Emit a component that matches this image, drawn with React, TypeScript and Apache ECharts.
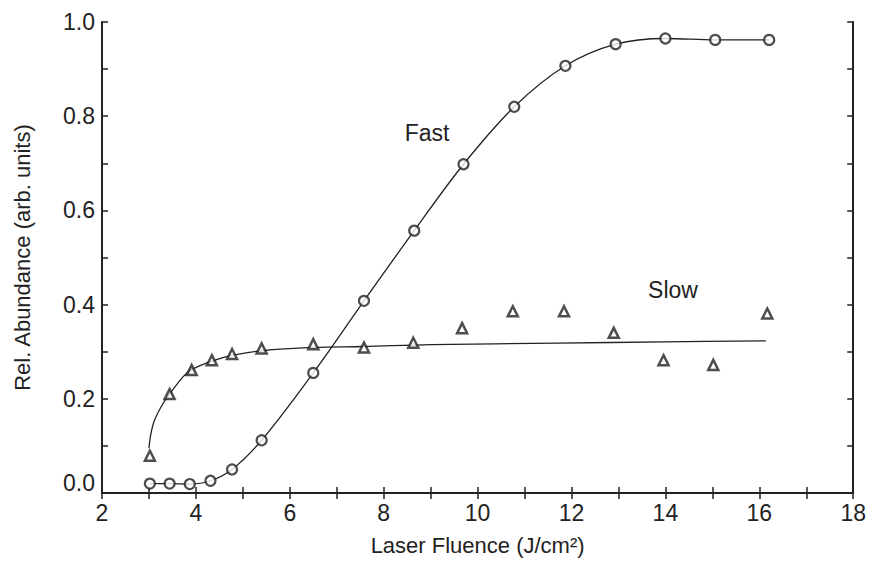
import React, { useEffect, useRef } from "react";
import * as echarts from "echarts";

const fluence = [3.02, 3.44, 3.87, 4.31, 4.77, 5.4, 6.5, 7.58, 8.65, 9.7, 10.78, 11.87, 12.94, 14.0, 15.06, 16.21];
const fastValues = [0.02, 0.02, 0.019, 0.026, 0.05, 0.112, 0.255, 0.408, 0.557, 0.698, 0.82, 0.907, 0.953, 0.965, 0.962, 0.962];
const slowFluence = [3.02, 3.44, 3.91, 4.34, 4.77, 5.4, 6.5, 7.58, 8.63, 9.67, 10.75, 11.84, 12.9, 13.96, 15.02, 16.17];
const slowValues = [0.079, 0.21, 0.261, 0.282, 0.295, 0.307, 0.316, 0.309, 0.319, 0.35, 0.386, 0.386, 0.34, 0.282, 0.272, 0.381];
const slowFitX = [3.0, 3.04, 3.12, 3.3, 3.44, 3.73, 3.91, 4.34, 4.77, 5.4, 6.5, 7.58, 9.0, 11.7, 14.0, 16.14];
const slowFitY = [0.095, 0.125, 0.155, 0.19, 0.21, 0.247, 0.262, 0.28, 0.292, 0.302, 0.309, 0.311, 0.315, 0.318, 0.321, 0.323];

const INK = "#222";
const FONT = "Liberation Sans, Arial, sans-serif";

export default function App() {
  const ref = useRef<HTMLDivElement>(null);
  useEffect(() => {
    if (!ref.current) return;
    const chart = echarts.init(ref.current, undefined, { renderer: "svg" });
    const zip = (xs: number[], ys: number[]) => xs.map((x, i) => [x, ys[i]]);
    const xBase = {
      type: "value",
      min: 2,
      max: 18,
      interval: 2,
      splitLine: { show: false },
      axisLine: { show: true, lineStyle: { color: INK, width: 2 } },
      axisTick: { show: true, inside: true, length: 6, lineStyle: { color: INK, width: 1.5 } },
      minorTick: { show: true, splitNumber: 2, length: 6, lineStyle: { color: INK, width: 1.5 } },
      minorSplitLine: { show: false },
    };
    const yBase = {
      type: "value",
      min: 0,
      max: 1,
      interval: 0.2,
      splitLine: { show: false },
      axisLine: { show: true, lineStyle: { color: INK, width: 2 } },
      axisTick: { show: true, inside: true, length: 6, lineStyle: { color: INK, width: 1.5 } },
      minorTick: { show: true, splitNumber: 2, length: 6, lineStyle: { color: INK, width: 1.5 } },
      minorSplitLine: { show: false },
    };
    chart.setOption({
      animation: false,
      backgroundColor: "#fff",
      grid: { left: 102, right: 13, top: 22, bottom: 68 },
      xAxis: [
        {
          ...xBase,
          position: "bottom",
          name: "Laser Fluence (J/cm²)",
          nameLocation: "middle",
          nameGap: 41,
          nameTextStyle: { color: INK, fontSize: 22, fontFamily: FONT },
          axisLabel: { color: INK, fontSize: 23, fontFamily: FONT, margin: 8 },
        },
        { ...xBase, position: "top", axisLabel: { show: false } },
      ],
      yAxis: [
        {
          ...yBase,
          position: "left",
          name: "Rel. Abundance (arb. units)",
          nameLocation: "middle",
          nameGap: 69,
          nameTextStyle: { color: INK, fontSize: 22, fontFamily: FONT },
          axisLabel: {
            color: INK,
            fontSize: 23,
            fontFamily: FONT,
            margin: 7,
            formatter: (v: number) => (v === 0 ? "{z|0.0}" : v.toFixed(1)),
            rich: { z: { fontSize: 23, fontFamily: FONT, color: INK, padding: [0, 0, 20, 0] } },
          },
        },
        { ...yBase, position: "right", axisLabel: { show: false } },
      ],
      graphic: [
        { type: "text", x: 427, y: 133, style: { text: "Fast", fill: INK, font: `23px ${FONT}`, align: "center", verticalAlign: "middle" } },
        { type: "text", x: 673, y: 290, style: { text: "Slow", fill: INK, font: `23px ${FONT}`, align: "center", verticalAlign: "middle" } },
      ],
      series: [
        {
          type: "line",
          data: zip(fluence, fastValues),
          smooth: 0.35,
          showSymbol: false,
          symbol: "none",
          lineStyle: { color: INK, width: 1.3 },
          z: 2,
        },
        {
          type: "line",
          data: zip(slowFitX, slowFitY),
          smooth: 0.35,
          showSymbol: false,
          symbol: "none",
          lineStyle: { color: INK, width: 1.3 },
          z: 2,
        },
        {
          type: "scatter",
          data: zip(fluence, fastValues),
          symbol: "circle",
          symbolSize: 10,
          itemStyle: { color: "#fff", borderColor: INK, borderWidth: 2.2 },
          z: 3,
        },
        {
          type: "scatter",
          data: zip(slowFluence, slowValues),
          symbol: "triangle",
          symbolSize: 10,
          itemStyle: { color: "#fff", borderColor: INK, borderWidth: 2.5 },
          z: 3,
        },
      ],
    });
    return () => chart.dispose();
  }, []);
  return <div ref={ref} style={{ position: "absolute", left: 0, top: 0, width: 869, height: 561 }} />;
}
